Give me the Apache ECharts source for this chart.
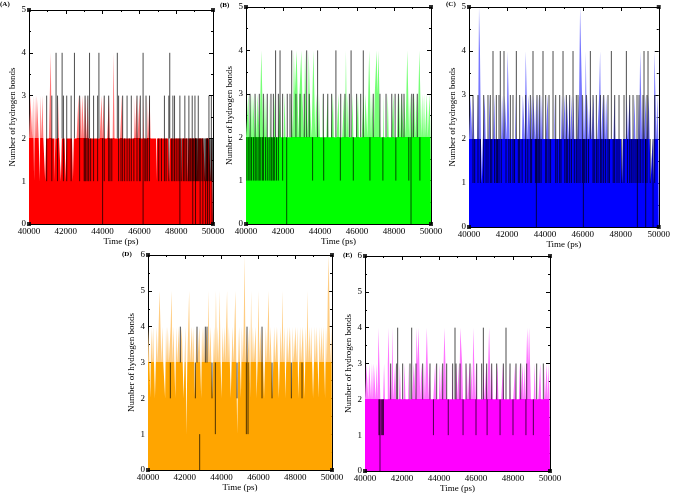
<!DOCTYPE html>
<html><head><meta charset="utf-8">
<script src="https://cdn.jsdelivr.net/npm/echarts@6/dist/echarts.min.js"></script>
<style>html,body{margin:0;padding:0;background:#fff}#c{width:673px;height:496px}</style>
</head><body><div id="c"></div>
<script>
// ---- data ----
const panelLabels = ['(A)', '(B)', '(C)', '(D)', '(E)'];
const panelColors = ['#ff0000', '#00ff00', '#0000ff', '#ffa500', '#ff00ff'];
const spikeColors = ['#ff7676', '#76ff76', '#7676ff', '#ffcc80', '#ff76ff'];
const spikeLevels = [2, 2, 2, 3, 2];
const yMaxes = [5, 5, 5, 6, 6];
const timeMin = 40000, timeMax = 50000;

// number of hydrogen bonds (coloured trace), 200 samples 40000..50000 ps
const hbA = [
3,2,3,3,2,3,1,3,2,3,3,2,1,3,2,3,2,2,1,2,
2,2,2,3,4,2,2,2,1,2,2,2,3,2,2,1,2,2,2,2,
1,2,2,2,2,2,2,2,1,2,2,2,2,2,3,2,3,2,3,3,
2,3,3,2,3,2,2,2,2,2,2,2,2,2,2,2,2,2,2,3,
2,3,2,2,2,2,2,3,2,2,2,2,4,2,2,2,2,2,2,2,
2,3,2,2,2,2,2,2,2,2,2,2,2,2,3,2,2,3,2,2,
3,2,2,2,3,2,2,2,3,2,2,3,2,2,2,2,2,2,1,2,
2,2,2,2,2,2,2,2,2,2,2,2,1,2,2,2,2,2,2,2,
2,2,2,2,2,1,2,2,2,2,2,2,1,2,2,2,2,2,2,2,
2,2,1,2,2,2,2,2,2,2,2,1,2,2,2,2,2,1,2,2];
const hbB = [
2,2,2,3,2,2,3,2,3,3,2,3,2,3,3,2,3,4,3,2,
3,2,3,2,2,2,3,2,2,2,2,3,2,2,2,2,2,3,2,2,
2,2,3,2,2,2,2,2,2,3,3,2,4,3,3,4,3,2,3,3,
4,3,3,2,4,3,3,2,4,3,3,2,3,4,3,2,3,3,2,3,
2,2,2,3,2,2,2,2,3,2,2,2,2,2,3,2,2,2,2,2,
3,2,2,2,2,2,3,2,4,2,3,2,2,2,2,3,2,2,2,2,
2,3,2,2,2,2,2,3,2,3,3,2,3,4,3,2,3,3,2,3,
3,4,3,4,3,2,2,2,3,2,2,2,2,3,2,2,2,2,2,3,
2,2,2,2,3,2,3,2,3,3,2,3,2,3,4,3,2,3,3,2,
3,2,3,2,3,2,3,4,3,2,3,2,3,2,2,3,2,2,3,2];
const hbC = [
3,2,3,3,2,3,2,2,2,3,2,5,4,2,1,2,2,3,2,2,
2,2,3,2,2,2,2,3,2,2,2,2,2,2,3,2,3,2,3,3,
2,4,3,2,2,2,2,2,2,3,2,2,2,2,2,2,2,3,3,2,
4,3,2,3,3,2,3,2,3,3,2,3,2,3,2,3,2,3,2,2,
2,2,2,3,2,2,2,2,2,2,3,2,2,2,2,2,2,2,3,2,
2,3,2,3,3,2,3,2,3,2,3,2,2,2,2,2,3,5,5,3,
2,3,2,4,2,3,2,2,3,2,2,3,2,2,2,2,2,3,4,2,
2,3,2,3,2,3,2,2,2,2,2,2,2,3,2,2,2,2,2,2,
2,1,2,2,2,2,3,2,2,3,2,2,2,2,3,2,2,2,3,2,
4,3,2,3,2,2,3,2,2,3,2,1,1,2,1,4,3,2,3,2];
const hbD = [
3,4,3,2,4,3,4,3,2,3,4,3,4,5,5,3,4,3,3,2,
4,3,4,3,3,4,5,3,4,3,2,4,3,3,4,3,3,4,3,2,
3,4,1,3,4,5,3,3,4,3,4,2,3,4,3,3,4,3,2,4,
3,4,3,3,4,3,5,3,4,3,2,3,4,3,5,3,4,3,5,3,
2,4,3,4,3,3,5,3,4,3,2,3,4,3,4,5,3,1,3,4,
3,2,4,3,4,6,3,4,3,3,4,2,5,3,4,3,3,4,2,3,
5,3,4,3,4,3,2,3,4,3,3,5,3,4,3,2,3,4,3,3,
4,3,2,3,4,3,5,3,4,2,3,4,3,3,4,3,2,4,3,3,
4,3,4,2,3,4,3,3,4,3,2,4,3,5,3,4,3,4,3,2,
3,4,3,4,3,2,4,3,4,3,4,3,2,4,3,5,6,4,3,4];
const hbE = [
3,2,3,3,2,3,3,2,3,2,3,3,2,3,2,4,3,2,2,2,
2,3,2,2,2,3,4,2,3,2,4,2,2,3,2,2,2,2,3,2,
2,2,2,3,2,2,2,3,2,2,2,2,2,3,3,2,4,3,4,3,
2,3,3,2,3,2,3,4,3,2,3,2,2,2,2,2,3,2,2,2,
2,3,2,3,2,3,4,3,2,2,2,2,2,2,3,2,2,2,2,3,
2,3,2,4,4,3,2,2,2,2,3,2,2,3,2,3,2,4,3,2,
3,2,2,2,2,2,2,2,3,2,2,3,2,3,4,3,2,3,2,2,
2,2,2,3,2,2,2,2,2,3,2,2,2,2,2,2,3,2,2,2,
2,2,3,2,2,2,2,3,2,2,3,2,3,2,3,4,3,4,3,2,
2,2,2,3,2,2,2,2,2,3,2,2,2,3,2,2,3,2,3,2];

// black trace: times (ps) of vertical strokes, grouped by the range they span
const blkA_2to4 = [41470,41800,42470,43290,43800,44800,46200,47650];
const blkA_1to3 = [40960,41240,41550,41870,42050,42290,42750,43050,43200,43510,43730,44090,44330,44870,45090,45330,45560,45870,46050,46360,46550,47360,47600,47820,47910,48200,48470,48690,48870,49020,49200,49780,49910];
const blkA_1to2 = [43000,43100,43250,43350,44400,44500,45000,45200,45450,45700,46000,46300,46450,47050,47200,47450,47750,48000,48100,48300,48400,48550,48650,48750,48800,48950,49050,49100,49150,49250,49350,49450,49550,49650,49700,49850,49950];
const blkA_0to2 = [44000,46200,48200,48900,49050,49300,49450,49600,49700,49800,49950];

const blkB_2to4 = [41600,41840,42470,43280,43870,44860,45680,46340];
const blkB_1to3 = [40220,40490,40720,40940,41150,41350,41480,41750,41980];
const blkB_2to3 = [42230,42380,42700,42920,43150,43420,44180,44420,44630,45120,45350,45590,45980,46200,46880,47240,47570,47880,48060,48240,48420,48540,48960,49050,49260];
const blkB_1to2 = [40050,40150,40300,40400,40550,40650,40800,40900,41050,41250,41400,41550,41650,43600,44200,45100,45800,46700,47400,48100,48800,49400];
const blkB_0to2 = [42200,48920];

const blkC_2to4 = [41265,41650,41845,42495,43373,43900,44428,44955,45482,46395,47502,48293,49224,49435];
const blkC_1to3 = [40211,40474,40773,41001,41124,41441,41581,42179,42319,42671,42987,43233,43584,43725,44041,44217,44569,44780,45130,45306,45657,45745,45974,46185,46536,46712,46923,47098,47327,47678,47906,48170,48469,48644,48855,48961,49171,49382,49786];
const blkC_1to2 = [40300,40600,40900,41200,41350,41500,41700,41950,42100,42400,42600,42800,43100,43300,43500,43650,43800,44100,44300,44650,44850,45050,45200,45400,45550,45850,46100,46300,46600,46800,47000,47200,47400,47600,47800,48050,48350,48550,48750,49050,49300,49550];
const blkC_0to2 = [43550,46027,48873,49312,49699];

const blkD_0to1 = [42809];
const blkD_2to3 = [41214,42573,43479,44838,46197,46741,47792,48371];
const blkD_1to3 = [43660,45345,45436];
const blkD_3to4 = [41758,42664,43117,43207,45382,46197];

const blkE_2to4 = [41766,42523,44865,46397,47622];
const blkE_2to3 = [41388,41712,42036,42433,42757,43117,43514,43874,44199,44415,44739,44919,45136,45460,45676,46037,46307,46577,46848,47118,47478,47839,48163,48415,48740,49280,49640];
const blkE_1to2 = [40750,40800,40900,40950,41000,43700,44500,45300,46000,46600,47300,48000,48700,49100];
const blkE_0to2 = [40810];

const hbSets = [hbA, hbB, hbC, hbD, hbE];
const blackSets = [
  [[blkA_2to4,2,4],[blkA_1to3,1,3],[blkA_1to2,1,2],[blkA_0to2,0,2]],
  [[blkB_2to4,2,4],[blkB_1to3,1,3],[blkB_2to3,2,3],[blkB_1to2,1,2],[blkB_0to2,0,2]],
  [[blkC_2to4,2,4],[blkC_1to3,1,3],[blkC_1to2,1,2],[blkC_0to2,0,2]],
  [[blkD_0to1,0,1],[blkD_2to3,2,3],[blkD_1to3,1,3],[blkD_3to4,3,4]],
  [[blkE_2to4,2,4],[blkE_2to3,2,3],[blkE_1to2,1,2],[blkE_0to2,0,2]]
];

// ---- layout (pixels) ----
const layout = [
  {left:29,  top:10,  width:184, height:214, tagX:7,   tagY:5},
  {left:246, top:7,   width:185, height:217, tagX:227, tagY:6},
  {left:469, top:7,   width:190, height:220, tagX:453, tagY:5},
  {left:148, top:255, width:184, height:215, tagX:129, tagY:255},
  {left:365, top:256, width:185, height:215, tagX:350, tagY:256}
];

const FONT = 'Liberation Serif';
const grid = [], xAxis = [], yAxis = [], series = [], graphic = [];

layout.forEach((L, p) => {
  grid.push({left:L.left, top:L.top, width:L.width, height:L.height, containLabel:false});
  const tick = {show:true, inside:true, length:4, lineStyle:{color:'#000', width:1}};
  const minor = {show:true, splitNumber:2, length:2, lineStyle:{color:'#000', width:1}};
  const line = {show:true, onZero:false, lineStyle:{color:'#000', width:1}};
  xAxis.push({
    type:'value', gridIndex:p, min:timeMin, max:timeMax, interval:2000, position:'bottom',
    axisLine:line, axisTick:tick, minorTick:minor, splitLine:{show:false},
    axisLabel:{fontFamily:FONT, fontSize:9, color:'#000', margin:3, formatter:v=>String(v)},
    name:'Time (ps)', nameLocation:'middle', nameGap:12,
    nameTextStyle:{fontFamily:FONT, fontSize:9, color:'#000'}
  });
  xAxis.push({
    type:'value', gridIndex:p, min:timeMin, max:timeMax, interval:2000, position:'top',
    axisLine:line, axisTick:tick, minorTick:minor, splitLine:{show:false}, axisLabel:{show:false}
  });
  yAxis.push({
    type:'value', gridIndex:p, min:0, max:yMaxes[p], interval:1, position:'left',
    axisLine:line, axisTick:tick, minorTick:minor, splitLine:{show:false},
    axisLabel:{fontFamily:FONT, fontSize:9, color:'#000', margin:3},
    name:'Number of hydrogen bonds', nameLocation:'middle', nameRotate:90, nameGap:11,
    nameTextStyle:{fontFamily:FONT, fontSize:9, color:'#000'}
  });
  yAxis.push({
    type:'value', gridIndex:p, min:0, max:yMaxes[p], interval:1, position:'right',
    axisLine:line, axisTick:tick, minorTick:minor, splitLine:{show:false}, axisLabel:{show:false}
  });

  const hb = hbSets[p];
  const n = hb.length;
  const colourData = hb.map((v, i) => [timeMin + i * (timeMax - timeMin) / (n - 1), v]);
  // area bounding box runs from 0 (bottom) to the highest value (top): hard colour stop at the spike level
  const top = Math.max(...hb);
  const t = (top - spikeLevels[p]) / top;
  const fill = new echarts.graphic.LinearGradient(0, 0, 0, 1, [
    {offset:0, color:spikeColors[p]}, {offset:t, color:spikeColors[p]},
    {offset:t, color:panelColors[p]}, {offset:1, color:panelColors[p]}
  ]);
  series.push({
    type:'line', xAxisIndex:2*p, yAxisIndex:2*p, data:colourData, symbol:'none', step:'middle',
    lineStyle:{width:0, opacity:0}, areaStyle:{color:fill, opacity:1},
    itemStyle:{color:panelColors[p]}, z:2, animation:false, silent:true
  });
  const blackData = [];
  blackSets[p].forEach(([xs, lo, hi]) => xs.forEach(x => { blackData.push([x, lo], [x, hi], [x, '-']); }));
  series.push({
    type:'line', xAxisIndex:2*p, yAxisIndex:2*p, data:blackData, symbol:'none', connectNulls:false,
    lineStyle:{color:'#000', width:0.7}, z:3, animation:false, silent:true
  });
  series.push({
    type:'scatter', xAxisIndex:2*p, yAxisIndex:2*p, symbol:'rect', symbolSize:4, clip:false,
    itemStyle:{color:'#000'}, z:6, animation:false, silent:true,
    data:[[timeMin,0],[timeMax,0],[timeMin,yMaxes[p]],[timeMax,yMaxes[p]]]
  });
  graphic.push({type:'text', left:L.tagX - 7, top:L.tagY - 4,
    style:{text:panelLabels[p], font:'bold 7px "Liberation Serif"', fill:'#000'}});
});

const chart = echarts.init(document.getElementById('c'), null, {renderer:'canvas'});
chart.setOption({animation:false, backgroundColor:'#fff', grid, xAxis, yAxis, series, graphic});
</script></body></html>
